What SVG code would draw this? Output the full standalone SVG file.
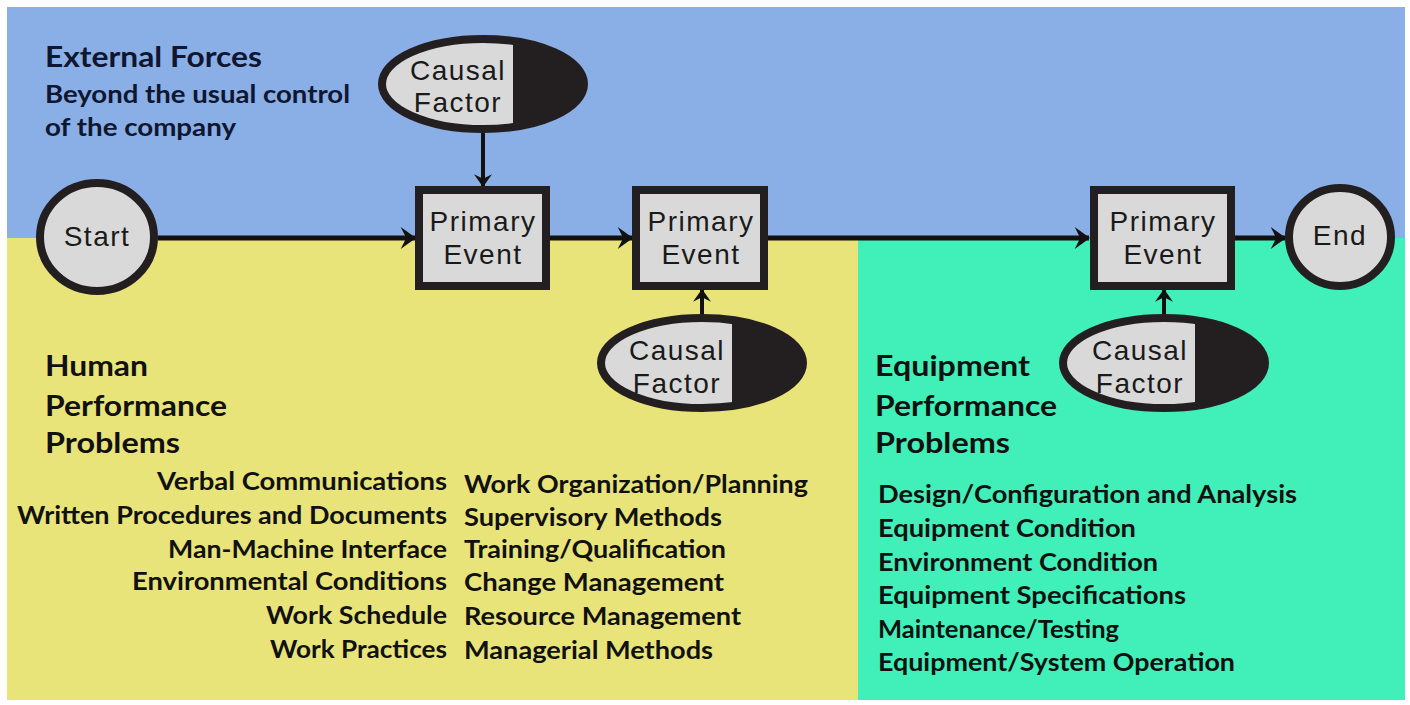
<svg xmlns="http://www.w3.org/2000/svg" width="1410" height="705" viewBox="0 0 1410 705">
  <style>
    .node { fill: #d9d9d9; stroke: #231f20; stroke-width: 8; }
    .dark { fill: #231f20; }
    .ntext { font-family: "Liberation Sans", Arial, sans-serif; font-size: 28px; fill: #1a1a1a; text-anchor: middle; letter-spacing: 1.5px; }
    .head { font-family: Lato, "Open Sans", sans-serif; font-weight: 700; font-size: 28px; fill: #111; }
    .sub { font-family: Lato, "Open Sans", sans-serif; font-weight: 700; font-size: 24px; fill: #111; }
    .ext { fill: #0e1630; }
    .link { stroke: #111; stroke-width: 5; fill: none; }
    .stub { stroke: #111; stroke-width: 4; fill: none; }
  </style>
  <defs>
    <marker id="arrow" viewBox="0 0 14 20" refX="13" refY="10" markerWidth="16" markerHeight="22" markerUnits="userSpaceOnUse" orient="auto">
      <path d="M0,0 L14,10 L0,20 L5,10 Z" fill="#111"/>
    </marker>
    <marker id="arrow-sm" viewBox="0 0 14 20" refX="13" refY="10" markerWidth="13" markerHeight="18" markerUnits="userSpaceOnUse" orient="auto">
      <path d="M0,0 L14,10 L0,20 L5,10 Z" fill="#111"/>
    </marker>
    <clipPath id="cf1"><ellipse cx="483" cy="84" rx="101" ry="45"/></clipPath>
    <clipPath id="cf2"><ellipse cx="702" cy="363" rx="101" ry="45"/></clipPath>
    <clipPath id="cf3"><ellipse cx="1164" cy="363" rx="101" ry="45"/></clipPath>
  </defs>

  <!-- background zones -->
  <rect x="0" y="0" width="1410" height="705" fill="#ffffff"/>
  <rect x="7" y="7" width="1398" height="232" fill="#8aaee6"/>
  <rect x="7" y="238" width="852" height="462" fill="#e8e47a"/>
  <rect x="858" y="238" width="547" height="462" fill="#40f0b8"/>

  <!-- zone headings and lists -->
  <g id="external-forces">
    <text class="head ext" x="45" y="67" textLength="217" lengthAdjust="spacingAndGlyphs">External Forces</text>
    <text class="sub ext" x="45" y="103" textLength="305" lengthAdjust="spacingAndGlyphs">Beyond the usual control</text>
    <text class="sub ext" x="45" y="136" textLength="191" lengthAdjust="spacingAndGlyphs">of the company</text>
  </g>

  <g id="human-performance">
    <text class="head" x="45" y="376" textLength="103" lengthAdjust="spacingAndGlyphs">Human</text>
    <text class="head" x="45" y="416" textLength="182" lengthAdjust="spacingAndGlyphs">Performance</text>
    <text class="head" x="45" y="453" textLength="135" lengthAdjust="spacingAndGlyphs">Problems</text>
    <g text-anchor="end">
      <text class="sub" x="447" y="490" textLength="290" lengthAdjust="spacingAndGlyphs">Verbal Communications</text>
      <text class="sub" x="447" y="524" textLength="430" lengthAdjust="spacingAndGlyphs">Written Procedures and Documents</text>
      <text class="sub" x="447" y="558" textLength="279" lengthAdjust="spacingAndGlyphs">Man-Machine Interface</text>
      <text class="sub" x="447" y="590" textLength="315" lengthAdjust="spacingAndGlyphs">Environmental Conditions</text>
      <text class="sub" x="447" y="624" textLength="181" lengthAdjust="spacingAndGlyphs">Work Schedule</text>
      <text class="sub" x="447" y="658" textLength="177" lengthAdjust="spacingAndGlyphs">Work Practices</text>
    </g>
    <text class="sub" x="464" y="493" textLength="344" lengthAdjust="spacingAndGlyphs">Work Organization/Planning</text>
    <text class="sub" x="464" y="526" textLength="258" lengthAdjust="spacingAndGlyphs">Supervisory Methods</text>
    <text class="sub" x="464" y="558" textLength="262" lengthAdjust="spacingAndGlyphs">Training/Qualification</text>
    <text class="sub" x="464" y="591" textLength="260" lengthAdjust="spacingAndGlyphs">Change Management</text>
    <text class="sub" x="464" y="625" textLength="277" lengthAdjust="spacingAndGlyphs">Resource Management</text>
    <text class="sub" x="464" y="659" textLength="249" lengthAdjust="spacingAndGlyphs">Managerial Methods</text>
  </g>

  <g id="equipment-performance">
    <text class="head" x="875" y="376" textLength="155" lengthAdjust="spacingAndGlyphs">Equipment</text>
    <text class="head" x="875" y="416" textLength="182" lengthAdjust="spacingAndGlyphs">Performance</text>
    <text class="head" x="875" y="453" textLength="135" lengthAdjust="spacingAndGlyphs">Problems</text>
    <text class="sub" x="878" y="503" textLength="419" lengthAdjust="spacingAndGlyphs">Design/Configuration and Analysis</text>
    <text class="sub" x="878" y="537" textLength="258" lengthAdjust="spacingAndGlyphs">Equipment Condition</text>
    <text class="sub" x="878" y="571" textLength="280" lengthAdjust="spacingAndGlyphs">Environment Condition</text>
    <text class="sub" x="878" y="604" textLength="308" lengthAdjust="spacingAndGlyphs">Equipment Specifications</text>
    <text class="sub" x="878" y="638" textLength="241" lengthAdjust="spacingAndGlyphs">Maintenance/Testing</text>
    <text class="sub" x="878" y="671" textLength="357" lengthAdjust="spacingAndGlyphs">Equipment/System Operation</text>
  </g>

  <!-- connectors -->
  <g id="connectors">
    <line class="link" x1="158" y1="238" x2="415" y2="238" marker-end="url(#arrow)"/>
    <line class="link" x1="550" y1="238" x2="632" y2="238" marker-end="url(#arrow)"/>
    <line class="link" x1="768" y1="238" x2="1089" y2="238" marker-end="url(#arrow)"/>
    <line class="link" x1="1235" y1="238" x2="1285" y2="238" marker-end="url(#arrow)"/>
    <line class="stub" x1="483" y1="133" x2="483" y2="186" marker-end="url(#arrow-sm)"/>
    <line class="stub" x1="702" y1="316" x2="702" y2="290" marker-end="url(#arrow-sm)"/>
    <line class="stub" x1="1164" y1="316" x2="1164" y2="290" marker-end="url(#arrow-sm)"/>
  </g>

  <!-- nodes -->
  <g id="start">
    <ellipse class="node" cx="97" cy="237" rx="57" ry="54"/>
    <text class="ntext" x="97" y="246">Start</text>
  </g>

  <g id="event-1">
    <rect class="node" x="419" y="190" width="127" height="96"/>
    <text class="ntext" x="483" y="231">Primary</text>
    <text class="ntext" x="483" y="264">Event</text>
  </g>

  <g id="event-2">
    <rect class="node" x="636" y="190" width="128" height="96"/>
    <text class="ntext" x="701" y="231">Primary</text>
    <text class="ntext" x="701" y="264">Event</text>
  </g>

  <g id="event-3">
    <rect class="node" x="1094" y="190" width="137" height="96"/>
    <text class="ntext" x="1163" y="231">Primary</text>
    <text class="ntext" x="1163" y="264">Event</text>
  </g>

  <g id="end">
    <ellipse class="node" cx="1340" cy="237" rx="51" ry="49"/>
    <text class="ntext" x="1340" y="245">End</text>
  </g>

  <g id="causal-factor-1">
    <ellipse class="node" cx="483" cy="84" rx="101" ry="45"/>
    <rect class="dark" x="513" y="30" width="80" height="110" clip-path="url(#cf1)"/>
    <text class="ntext" x="458" y="80">Causal</text>
    <text class="ntext" x="458" y="112">Factor</text>
  </g>

  <g id="causal-factor-2">
    <ellipse class="node" cx="702" cy="363" rx="101" ry="45"/>
    <rect class="dark" x="732" y="310" width="80" height="110" clip-path="url(#cf2)"/>
    <text class="ntext" x="677" y="360">Causal</text>
    <text class="ntext" x="677" y="393">Factor</text>
  </g>

  <g id="causal-factor-3">
    <ellipse class="node" cx="1164" cy="363" rx="101" ry="45"/>
    <rect class="dark" x="1195" y="310" width="80" height="110" clip-path="url(#cf3)"/>
    <text class="ntext" x="1140" y="360">Causal</text>
    <text class="ntext" x="1140" y="393">Factor</text>
  </g>
</svg>
